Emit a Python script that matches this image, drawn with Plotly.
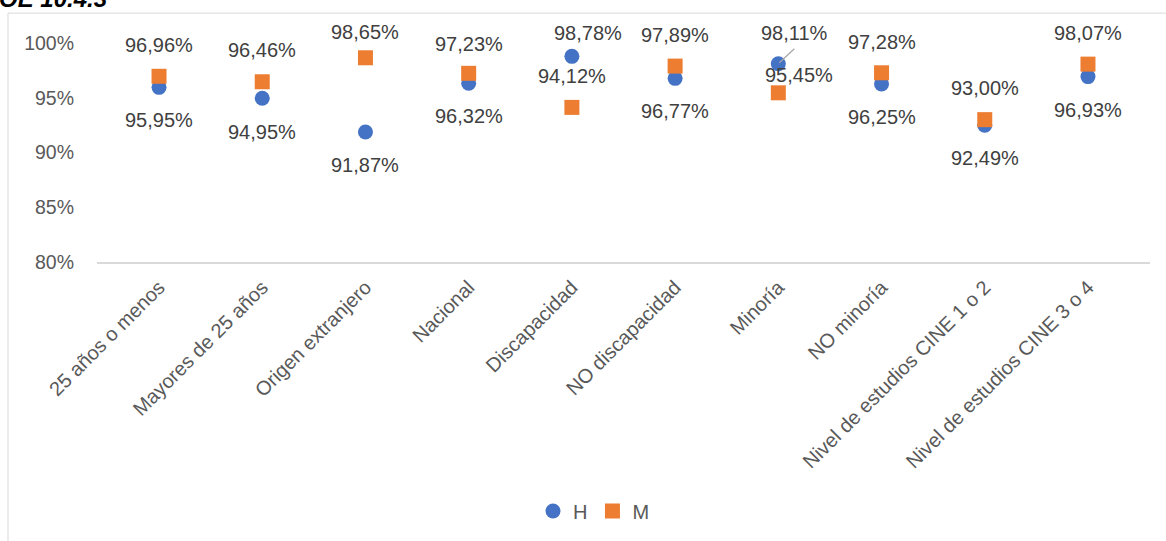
import plotly.graph_objects as go

# Categorías del eje horizontal
categorias = [
    "25 años o menos",
    "Mayores de 25 años",
    "Origen extranjero",
    "Nacional",
    "Discapacidad",
    "NO discapacidad",
    "Minoría",
    "NO minoría",
    "Nivel de estudios CINE 1 o 2",
    "Nivel de estudios CINE 3 o 4",
]

# Porcentajes por sexo
valores_h = [95.95, 94.95, 91.87, 96.32, 98.78, 96.77, 98.11, 96.25, 92.49, 96.93]
valores_m = [96.96, 96.46, 98.65, 97.23, 94.12, 97.89, 95.45, 97.28, 93.00, 98.07]

# Marcas del eje vertical
ticks_y = [80, 85, 90, 95, 100]
ticks_y_txt = ["80%", "85%", "90%", "95%", "100%"]

# Desplazamiento de cada etiqueta de datos (px): (dx, dy), dy positivo hacia arriba
desp_h = [(0, -33), (0, -34), (0, -33), (0, -33), (16, 23),
          (0, -33), (16, 31), (0, -33), (0, -33), (0, -33)]
desp_m = [(0, 31), (0, 32), (0, 26), (0, 29), (0, 31),
          (0, 31), (21, 18), (0, 31), (0, 32), (0, 31)]

AZUL = "#4472C4"
NARANJA = "#ED7D31"
FUENTE = "Liberation Sans, Arial, sans-serif"
GRIS_TXT = "#595959"
GRIS_ETQ = "#404040"
GRIS_LINEA = "#D9D9D9"

W, H = 1166, 541
ML, MR, MT, MB = 97, 16, 43, 278
PW, PH = W - ML - MR, H - MT - MB


def px_a_papel_x(px):
    return (px - ML) / PW


def px_a_papel_y(py):
    return (H - MB - py) / PH


def fmt(v):
    return f"{v:.2f}".replace(".", ",") + "%"


fig = go.Figure()
fig.add_trace(go.Scatter(
    x=categorias, y=valores_h, name="H", mode="markers",
    marker=dict(symbol="circle", size=15, color=AZUL, line=dict(width=0)),
))
fig.add_trace(go.Scatter(
    x=categorias, y=valores_m, name="M", mode="markers",
    marker=dict(symbol="square", size=15, color=NARANJA, line=dict(width=0)),
))

anotaciones = []
for serie, desp in ((valores_h, desp_h), (valores_m, desp_m)):
    for cat, v, (dx, dy) in zip(categorias, serie, desp):
        anotaciones.append(dict(
            x=cat, y=v, xref="x", yref="y", text=fmt(v), showarrow=False,
            xshift=dx, yshift=dy, xanchor="center", yanchor="middle",
            font=dict(family=FUENTE, size=20, color=GRIS_ETQ),
        ))

# Título del gráfico
anotaciones.append(dict(
    x=px_a_papel_x(-3), y=px_a_papel_y(14), xref="paper", yref="paper",
    text="<b><i>OE 10.4.3</i></b>", showarrow=False,
    xanchor="left", yanchor="bottom",
    font=dict(family=FUENTE, size=24, color="#000000"),
))

formas = [
    # Marco del área del gráfico
    dict(type="rect", xref="paper", yref="paper",
         x0=px_a_papel_x(8), x1=px_a_papel_x(W + 20),
         y0=px_a_papel_y(H + 20), y1=px_a_papel_y(13),
         line=dict(color=GRIS_LINEA, width=1), fillcolor="rgba(0,0,0,0)",
         layer="below"),
    # Línea guía de la etiqueta de Minoría (H)
    dict(type="line", xref="x", yref="y", xsizemode="pixel", ysizemode="pixel",
         xanchor=categorias[6], yanchor=valores_h[6],
         x0=1, y0=1, x1=16, y1=15,
         line=dict(color="#A6A6A6", width=1.2)),
]

fig.update_layout(
    width=W, height=H,
    margin=dict(l=ML, r=MR, t=MT, b=MB),
    paper_bgcolor="white", plot_bgcolor="white",
    font=dict(family=FUENTE, size=20, color=GRIS_TXT),
    showlegend=True,
    legend=dict(
        orientation="h", x=px_a_papel_x(594), xanchor="center",
        y=px_a_papel_y(511), yanchor="middle",
        font=dict(family=FUENTE, size=20, color=GRIS_TXT),
        itemwidth=30, tracegroupgap=0,
    ),
    annotations=anotaciones,
    shapes=formas,
    xaxis=dict(
        type="category", categoryorder="array", categoryarray=categorias,
        showgrid=False, zeroline=False,
        showline=True, linecolor=GRIS_LINEA, linewidth=1.5,
        ticks="", tickangle=-45, ticklabelstandoff=4,
        tickfont=dict(family=FUENTE, size=20, color=GRIS_TXT),
    ),
    yaxis=dict(
        range=[80, 100], tickvals=ticks_y, ticktext=ticks_y_txt,
        showgrid=False, zeroline=False, showline=False,
        ticks="", ticklabelstandoff=22,
        tickfont=dict(family=FUENTE, size=19.5, color=GRIS_TXT),
    ),
)

fig.write_html("out.html")
